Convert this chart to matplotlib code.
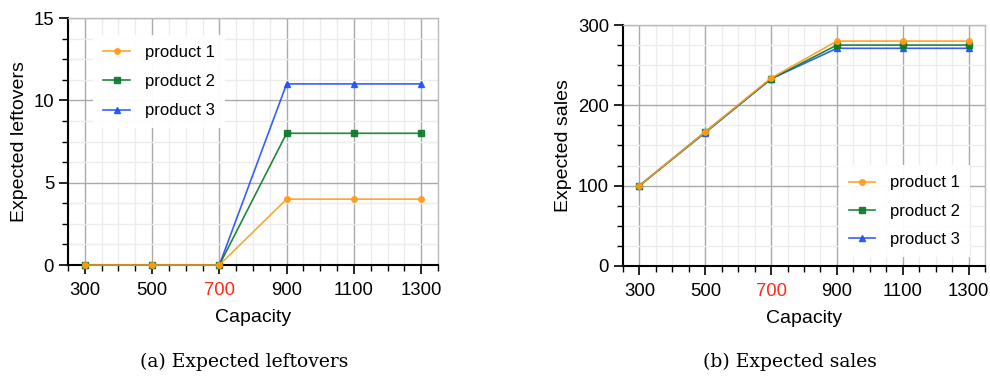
import matplotlib
matplotlib.use('Agg')
import matplotlib.pyplot as plt
from matplotlib.ticker import MultipleLocator

# ---- data ----
capacity = [300, 500, 700, 900, 1100, 1300]
products = ['product 1', 'product 2', 'product 3']

left_p1 = [0, 0, 0, 4, 4, 4]
left_p2 = [0, 0, 0, 8, 8, 8]
left_p3 = [0, 0, 0, 11, 11, 11]

sales_p1 = [100, 167, 234, 280, 280, 280]
sales_p2 = [100, 167, 233, 275, 275, 275]
sales_p3 = [100, 166, 233, 271, 271, 271]

colors = ['#ff9c1a', '#0a7a28', '#1f4fff']
markers = ['o', 's', '^']

plt.rcParams['font.family'] = ['Liberation Sans', 'DejaVu Sans']

fig = plt.figure(figsize=(9.9, 3.76), dpi=100)
ax1 = fig.add_axes([0.0687, 0.2952, 0.3737, 0.6568])
ax2 = fig.add_axes([0.6293, 0.2926, 0.3657, 0.6409])


def style_axis(ax, ymax, ymajor, yminor, ylabel):
    ax.set_xlim(250, 1350)
    ax.set_ylim(0, ymax)
    ax.set_xticks(capacity)
    ax.xaxis.set_minor_locator(MultipleLocator(50))
    ax.yaxis.set_major_locator(MultipleLocator(ymajor))
    ax.yaxis.set_minor_locator(MultipleLocator(yminor))
    ax.grid(True, which='major', color='#aaaaaa', linewidth=1.0)
    ax.grid(True, which='minor', color='#ececec', linewidth=1.0)
    ax.set_axisbelow(True)
    for s in ['top', 'right']:
        ax.spines[s].set_color('#bbbbbb')
        ax.spines[s].set_linewidth(1.0)
    for s in ['left', 'bottom']:
        ax.spines[s].set_color('black')
        ax.spines[s].set_linewidth(1.5)
    ax.tick_params(which='major', direction='out', length=6.5, width=1.2, labelsize=13.3)
    ax.tick_params(which='minor', direction='out', length=4, width=1.0)
    ax.tick_params(axis='x', pad=6)
    ax.get_xticklabels()[2].set_color('#ff2a1a')
    ax.set_xlabel('Capacity', fontsize=14, labelpad=7)
    ax.set_ylabel(ylabel, fontsize=14, labelpad=4)


series_left = [left_p1, left_p2, left_p3]
series_sales = [sales_p1, sales_p2, sales_p3]

for ax, series in [(ax1, series_left), (ax2, series_sales)]:
    lines = []
    # draw in reverse so product 1 is on top
    for i in [2, 1, 0]:
        ln, = ax.plot(capacity, series[i], color=colors[i], marker=markers[i],
                      markersize=4, linewidth=1.2, alpha=0.9, label=products[i],
                      clip_on=False, zorder=3 + (2 - i))
        lines.append(ln)
    lines = lines[::-1]
    if ax is ax1:
        leg = ax.legend(lines, products, loc='upper left', bbox_to_anchor=(0.068, 0.931),
                        borderaxespad=0, fontsize=12, labelspacing=0.85,
                        handlelength=1.6, handletextpad=0.9, borderpad=0.6,
                        frameon=True, fancybox=False)
    else:
        leg = ax.legend(lines, products, loc='lower right', bbox_to_anchor=(0.959, 0.037),
                        borderaxespad=0, fontsize=12, labelspacing=0.8,
                        handlelength=1.6, handletextpad=0.9, borderpad=0.6,
                        frameon=True, fancybox=False)
    leg.get_frame().set_edgecolor('none')
    leg.get_frame().set_alpha(0.95)

style_axis(ax1, 15, 5, 1.25, 'Expected leftovers')
style_axis(ax2, 300, 100, 25, 'Expected sales')

fig.text(0.247, 0.037, '(a) Expected leftovers', ha='center', va='center',
         fontsize=13.5, family='DejaVu Serif')
fig.text(0.798, 0.037, '(b) Expected sales', ha='center', va='center',
         fontsize=13.5, family='DejaVu Serif')

fig.savefig('out.png', dpi=100)
